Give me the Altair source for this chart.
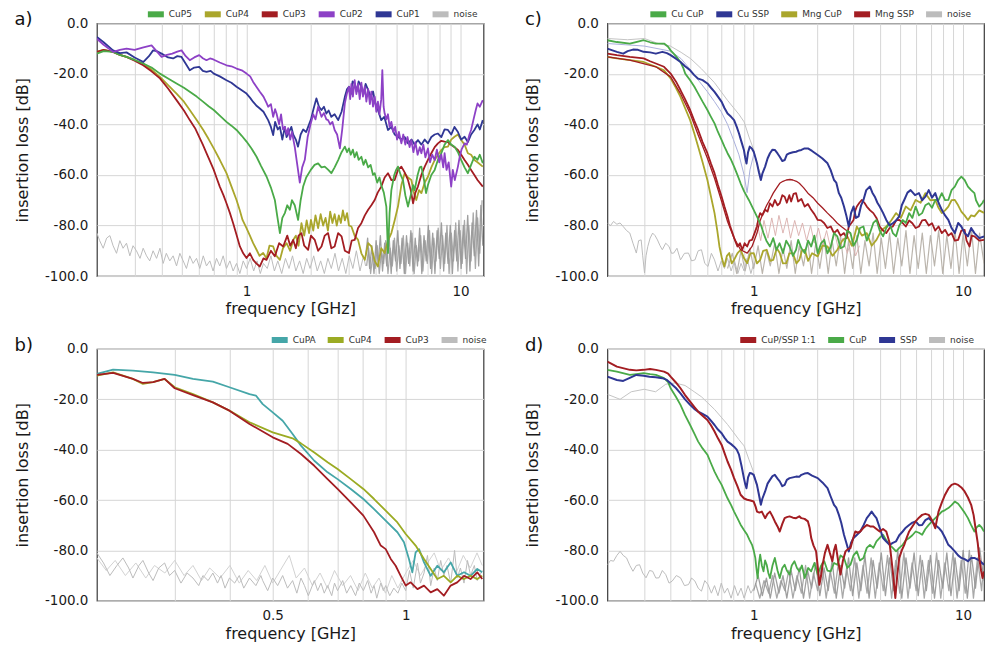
import altair as alt
import pandas as pd

FONT = "DejaVu Sans"

# ---------------- panel a ----------------
A_CUP5 = [(0.2,-12.0),(0.215,-11),(0.238,-11.3),(0.256,-12.5),(0.275,-13.3),(0.3,-14.5),(0.329,-15.9),(0.36,-17.5),(0.394,-19.9),(0.43,-21.8),(0.471,-23.8),(0.51,-25.5),(0.543,-27.1),(0.585,-29),(0.628,-31.1),(0.665,-32.8),(0.703,-34.3),(0.75,-36.5),(0.806,-39.0),(0.85,-40.5),(0.898,-42.2),(0.95,-44.5),(1.0,-46.8),(1.055,-49.5),(1.114,-52.8),(1.17,-56.5),(1.24,-60.6),(1.3,-65),(1.356,-69.9),(1.39,-76),(1.432,-83.0),(1.47,-77),(1.51,-75.1),(1.55,-72),(1.594,-73.8),(1.63,-70),(1.68,-72),(1.742,-77.8),(1.79,-70),(1.839,-64.6),(1.9,-61),(1.996,-58.0),(2.08,-56),(2.16,-55.4),(2.24,-57),(2.32,-56.7),(2.41,-58),(2.49,-59.3),(2.58,-57),(2.68,-54.1),(2.78,-51),(2.88,-48.8),(2.95,-51),(3.01,-49.5),(3.07,-52),(3.14,-50),(3.2,-53),(3.27,-51),(3.34,-54),(3.44,-52.8),(3.52,-56),(3.6,-54),(3.7,-57),(3.8,-56),(3.9,-60),(3.97,-59.3),(4.08,-63),(4.18,-61),(4.26,-64),(4.38,-67),(4.5,-72.5),(4.58,-90.9),(4.66,-75),(4.75,-66),(4.9,-60),(5.0,-58),(5.1,-56.7),(5.25,-60),(5.38,-62.0),(5.52,-68),(5.68,-72.5),(5.85,-68),(6.0,-64),(6.1,-66),(6.3,-60),(6.45,-57),(6.56,-56.7),(6.75,-62),(6.9,-67.2),(7.04,-64),(7.3,-60),(7.57,-58.0),(7.84,-54),(8.13,-51.4),(8.42,-48),(8.73,-46.2),(9.04,-48),(9.37,-48.8),(9.72,-51),(10.07,-54.1),(10.44,-57),(10.82,-59.3),(11.2,-56),(11.6,-52.8),(12.0,-54),(12.3,-52),(12.7,-55.4)]
A_CUP4 = [(0.2,-11.3),(0.215,-10.5),(0.238,-11.3),(0.256,-12.5),(0.275,-13.3),(0.3,-14.5),(0.329,-15.9),(0.36,-18.3),(0.394,-21.2),(0.43,-24.5),(0.471,-27.8),(0.51,-31),(0.543,-34.3),(0.585,-38.3),(0.628,-42.2),(0.665,-45.8),(0.703,-49.5),(0.75,-54),(0.806,-59.3),(0.85,-64.5),(0.898,-69.9),(0.93,-74),(0.958,-77.8),(1.0,-81),(1.037,-84.0),(1.074,-87),(1.114,-89.6),(1.15,-92),(1.196,-90.9),(1.24,-93),(1.28,-88),(1.332,-88.3),(1.38,-92),(1.432,-93.6),(1.48,-89),(1.538,-87),(1.6,-90),(1.652,-85.7),(1.7,-84),(1.75,-88),(1.806,-79.1),(1.86,-84),(1.91,-78),(1.96,-83),(2.0,-77.8),(2.05,-82),(2.1,-76),(2.16,-81),(2.22,-75.5),(2.28,-80),(2.34,-77),(2.4,-82),(2.46,-74.5),(2.52,-79),(2.58,-75.5),(2.64,-80),(2.7,-76),(2.76,-79),(2.82,-74),(2.88,-78),(2.95,-75.1),(3.01,-80),(3.09,-80.4),(3.2,-84),(3.32,-85.7),(3.44,-91),(3.57,-93.6),(3.7,-87),(3.83,-88.3),(3.97,-94),(4.11,-96.2),(4.26,-89),(4.42,-90.9),(4.58,-86),(4.75,-83),(4.92,-78),(5.1,-72.5),(5.29,-64),(5.48,-59.3),(5.68,-61),(5.89,-62),(6.05,-67),(6.21,-69.9),(6.4,-66),(6.56,-67.2),(6.8,-63),(7.04,-60.7),(7.3,-57),(7.57,-54.1),(7.84,-52),(8.13,-50.1),(8.42,-49),(8.73,-48.8),(9.04,-46),(9.37,-44.9),(9.72,-44),(10.07,-46.2),(10.44,-48),(10.82,-51.4),(11.2,-52),(11.6,-54.1),(12.0,-55),(12.7,-56.7)]
A_CUP3 = [(0.2,-11.3),(0.215,-10.5),(0.238,-11.3),(0.256,-12.5),(0.275,-13.3),(0.3,-14.8),(0.329,-16.6),(0.36,-19),(0.394,-21.8),(0.43,-25.8),(0.471,-30.4),(0.51,-34.5),(0.543,-38.3),(0.575,-41.5),(0.601,-44.9),(0.625,-48),(0.65,-51.4),(0.675,-54.5),(0.703,-58.0),(0.725,-61.2),(0.75,-64.6),(0.78,-68),(0.806,-71.2),(0.836,-75),(0.866,-79.1),(0.9,-84),(0.931,-88.3),(0.965,-91),(1.0,-92.9),(1.037,-91),(1.074,-93.6),(1.11,-95),(1.154,-96.2),(1.2,-93),(1.24,-93.6),(1.3,-90),(1.356,-92.2),(1.42,-87),(1.484,-88.3),(1.55,-84),(1.6,-88),(1.652,-85.7),(1.7,-89),(1.75,-84),(1.806,-83),(1.86,-88),(1.94,-89.6),(2.0,-84),(2.084,-85.7),(2.16,-90),(2.24,-88.3),(2.32,-84),(2.405,-83),(2.49,-89),(2.58,-88.3),(2.68,-83),(2.78,-84.3),(2.88,-90),(3.01,-90.9),(3.1,-86),(3.2,-85.7),(3.32,-81),(3.44,-79.1),(3.57,-76),(3.70,-73.8),(3.83,-72),(3.97,-69.9),(4.1,-67),(4.26,-64.6),(4.42,-61),(4.58,-59.3),(4.75,-62),(4.92,-62),(5.1,-58),(5.29,-56.7),(5.48,-59),(5.68,-62),(5.85,-66),(6.0,-71.2),(6.15,-67),(6.32,-64.6),(6.56,-60),(6.80,-56.7),(7.04,-54),(7.30,-51.4),(7.57,-49),(7.84,-47.5),(8.13,-46.5),(8.42,-46.8),(8.73,-47),(9.04,-48.1),(9.37,-49),(9.72,-50.1),(10.07,-52),(10.44,-54.1),(10.82,-56),(11.2,-58.0),(11.6,-60),(12.0,-62.0),(12.7,-64.6)]
A_CUP2 = [(0.2,-6.1),(0.215,-8.5),(0.238,-11.3),(0.256,-10.5),(0.275,-10.0),(0.3,-10.5),(0.33,-9.5),(0.36,-8.7),(0.38,-11),(0.401,-13.3),(0.425,-12.5),(0.45,-12.0),(0.475,-11.2),(0.497,-10.7),(0.52,-13),(0.543,-14.6),(0.57,-13.5),(0.601,-12.6),(0.625,-13.8),(0.65,-14.6),(0.675,-13.9),(0.70,-14.3),(0.75,-15.5),(0.806,-16.6),(0.85,-17),(0.898,-17.9),(0.95,-18.6),(1.0,-19.9),(1.04,-21),(1.074,-23.2),(1.11,-25),(1.154,-27.1),(1.2,-29),(1.24,-31.5),(1.262,-33.0),(1.3,-32),(1.332,-37),(1.36,-34),(1.381,-35.7),(1.42,-40),(1.45,-36),(1.48,-42),(1.51,-40.9),(1.54,-44),(1.565,-41.5),(1.6,-46),(1.63,-43),(1.681,-49),(1.72,-55),(1.774,-63),(1.82,-57),(1.872,-54),(1.93,-45),(1.996,-39.6),(2.05,-36),(2.1,-38),(2.16,-33),(2.2,-35),(2.24,-37),(2.3,-35.5),(2.36,-38),(2.405,-38.3),(2.46,-40),(2.52,-39),(2.58,-42.2),(2.65,-44),(2.73,-49.5),(2.8,-42),(2.88,-31.7),(2.94,-28),(3.01,-25.1),(3.05,-30),(3.09,-24),(3.14,-29),(3.2,-22.5),(3.26,-28),(3.32,-24),(3.38,-30),(3.44,-23.5),(3.5,-29),(3.57,-25),(3.63,-31),(3.7,-26),(3.77,-32),(3.83,-27),(3.9,-33),(3.97,-29),(4.04,-35),(4.11,-31),(4.18,-36),(4.26,-30),(4.31,-18.5),(4.37,-33),(4.42,-35.7),(4.5,-38),(4.58,-36),(4.66,-41),(4.75,-39),(4.85,-43),(4.95,-41),(5.05,-46),(5.15,-43),(5.29,-47.5),(5.4,-44),(5.52,-48),(5.65,-45),(5.78,-49),(5.89,-46.2),(6.02,-51),(6.15,-47),(6.3,-52),(6.45,-49),(6.56,-51.4),(6.7,-48),(6.85,-53),(7.04,-49.5),(7.2,-55),(7.37,-52),(7.57,-54.1),(7.75,-50),(7.95,-55),(8.13,-52),(8.3,-57),(8.42,-51.4),(8.6,-58),(8.8,-55),(9.04,-64.6),(9.2,-58),(9.4,-62),(9.72,-56.7),(9.9,-53),(10.1,-50),(10.44,-47.5),(10.7,-48),(11.0,-44),(11.2,-42.2),(11.5,-38),(11.8,-34),(12.0,-31.7),(12.3,-33),(12.7,-30.4)]
A_CUP1 = [(0.2,-5.4),(0.215,-7.5),(0.238,-10.7),(0.256,-11.8),(0.275,-11.5),(0.3,-13.5),(0.33,-15.3),(0.35,-13),(0.366,-10.7),(0.38,-11),(0.401,-12.0),(0.43,-13.5),(0.454,-13.9),(0.475,-13),(0.497,-13.3),(0.52,-16),(0.543,-18.6),(0.57,-17.5),(0.601,-17.2),(0.625,-18.8),(0.65,-19.2),(0.68,-18.8),(0.703,-19.9),(0.75,-21),(0.806,-22.5),(0.85,-23.5),(0.898,-25.1),(0.95,-26.5),(1.0,-27.8),(1.04,-29.5),(1.074,-31.1),(1.11,-32.5),(1.154,-33.7),(1.2,-35),(1.262,-38.3),(1.3,-41),(1.332,-44.2),(1.36,-39),(1.4,-42),(1.432,-41),(1.47,-46),(1.51,-41),(1.538,-45),(1.58,-43),(1.62,-41),(1.652,-44),(1.7,-46),(1.74,-48.8),(1.79,-44),(1.84,-42),(1.9,-43),(1.94,-41),(2.0,-38),(2.05,-34.3),(2.12,-29.7),(2.18,-33),(2.24,-34.3),(2.3,-33),(2.36,-35.7),(2.42,-34.5),(2.49,-37.0),(2.58,-36),(2.68,-38.3),(2.78,-35),(2.88,-29.1),(2.95,-26),(3.01,-25.1),(3.07,-28),(3.13,-23),(3.2,-23.8),(3.27,-27),(3.34,-23),(3.44,-25.1),(3.52,-28),(3.6,-24),(3.7,-26.4),(3.8,-29),(3.9,-27),(4.0,-31.7),(4.1,-34),(4.26,-38.3),(4.4,-37),(4.58,-42.2),(4.75,-41),(4.92,-44),(5.1,-44.9),(5.3,-46),(5.48,-45),(5.68,-47.5),(5.9,-46),(6.1,-48),(6.32,-46.2),(6.56,-48),(6.8,-46),(7.04,-47.5),(7.3,-45),(7.57,-44),(7.84,-43.6),(8.13,-45),(8.42,-42),(8.73,-42.2),(9.04,-44),(9.37,-41),(9.72,-43),(10.07,-46),(10.44,-44.9),(10.82,-47),(11.2,-44),(11.6,-42.2),(12.0,-40),(12.3,-42),(12.7,-38.3)]
A_NOISE = [(0.2,-83),(0.206,-86),(0.214,-89),(0.222,-85),(0.23,-84),(0.238,-88),(0.247,-91),(0.256,-86),(0.265,-89),(0.275,-87),(0.285,-92),(0.295,-88),(0.306,-90),(0.318,-93),(0.329,-89),(0.341,-92),(0.353,-94),(0.366,-90),(0.38,-93),(0.394,-89),(0.408,-95),(0.422,-91),(0.438,-94),(0.454,-92),(0.471,-96),(0.488,-91),(0.506,-94),(0.524,-97),(0.543,-92),(0.563,-95),(0.584,-93),(0.605,-97),(0.628,-92),(0.65,-96),(0.674,-94),(0.698,-98),(0.724,-93),(0.75,-96),(0.778,-92),(0.806,-97),(0.836,-94),(0.866,-98),(0.898,-95),(0.931,-99),(0.965,-94),(1.0,-97),(1.04,-93),(1.08,-98),(1.12,-94),(1.16,-99),(1.2,-95),(1.25,-97),(1.3,-92),(1.35,-98),(1.4,-94),(1.46,-99),(1.52,-93),(1.58,-97),(1.64,-92),(1.7,-98),(1.77,-94),(1.84,-99),(1.91,-93),(1.98,-97),(2.06,-92),(2.14,-98),(2.22,-94),(2.31,-99),(2.4,-93),(2.49,-97),(2.59,-91),(2.69,-98),(2.8,-93),(2.91,-99),(3.02,-92),(3.14,-97),(3.26,-90),(3.39,-98),(3.52,-92),(3.6,-96)]
A_BAND1 = [(3.6,-92),(3.68,-85),(3.76,-97),(3.85,-88),(3.94,-99),(4.03,-86),(4.12,-95),(4.22,-84),(4.32,-98),(4.42,-87),(4.52,-96),(4.63,-83),(4.74,-99),(4.85,-86),(4.97,-94),(5.09,-82),(5.21,-97),(5.33,-85),(5.46,-99),(5.59,-84),(5.72,-95),(5.86,-82),(6.0,-98),(6.14,-85),(6.29,-96),(6.44,-81),(6.59,-99),(6.75,-84),(6.91,-94),(7.07,-80),(7.24,-97),(7.41,-83),(7.59,-99),(7.77,-82),(7.95,-93),(8.14,-79),(8.34,-98),(8.53,-83),(8.74,-95),(8.95,-80),(9.16,-99),(9.38,-82),(9.6,-94),(9.83,-78),(10.06,-97),(10.3,-80),(10.55,-93),(10.8,-76),(11.06,-98),(11.32,-79),(11.59,-92),(11.87,-74),(12.15,-96),(12.44,-72),(12.7,-88)]
A_BAND2 = [(3.64,-96),(3.72,-89),(3.8,-99),(3.9,-91),(3.99,-97),(4.08,-88),(4.17,-99),(4.27,-90),(4.37,-95),(4.47,-86),(4.58,-99),(4.69,-89),(4.8,-96),(4.91,-85),(5.03,-98),(5.15,-88),(5.27,-95),(5.4,-84),(5.53,-99),(5.66,-87),(5.79,-96),(5.93,-83),(6.07,-99),(6.21,-88),(6.36,-94),(6.51,-84),(6.67,-98),(6.83,-86),(6.99,-95),(7.16,-82),(7.33,-99),(7.5,-85),(7.68,-94),(7.86,-81),(8.05,-97),(8.24,-84),(8.43,-95),(8.64,-80),(8.84,-99),(9.05,-83),(9.27,-94),(9.49,-79),(9.72,-98),(9.95,-82),(10.18,-95),(10.43,-78),(10.68,-99),(10.93,-80),(11.19,-94),(11.46,-75),(11.73,-97),(12.01,-77),(12.3,-91),(12.6,-70)]

# ---------------- panel b ----------------
B_CUPA = [(0.2,-9.9),(0.2176,-8.2),(0.2413,-8.6),(0.268,-9.3),(0.30,-10.3),(0.33,-11.9),(0.366,-13.0),(0.399,-15.2),(0.443,-17.9),(0.458,-18.5),(0.4746,-21.9),(0.50,-25.2),(0.5266,-28.5),(0.5546,-33.8),(0.5793,-38.4),(0.621,-44.4),(0.6655,-49.0),(0.701,-51.7),(0.751,-55.6),(0.802,-59.6),(0.848,-63.6),(0.909,-68.9),(0.9576,-72.8),(0.991,-76.8),(1.017,-83.4),(1.035,-88.7),(1.053,-80.8),(1.072,-79.5),(1.10,-84.8),(1.139,-90.1),(1.179,-86.1),(1.22,-88.7),(1.264,-84.8),(1.308,-90.1),(1.355,-88.7),(1.402,-90.1),(1.452,-87.4),(1.49,-88.7)]
B_CUP4 = [(0.2,-10.6),(0.2176,-9.3),(0.2413,-11.9),(0.2542,-13.9),(0.268,-13.2),(0.2846,-11.9),(0.30,-15.2),(0.33,-17.9),(0.366,-21.2),(0.399,-24.5),(0.443,-29.1),(0.50,-33.1),(0.5546,-35.5),(0.5793,-37.5),(0.621,-41.1),(0.6655,-45.0),(0.701,-47.7),(0.751,-51.7),(0.802,-55.6),(0.848,-59.6),(0.909,-64.9),(0.9576,-68.9),(1.0,-73.5),(1.053,-78.1),(1.10,-83.4),(1.139,-87.4),(1.179,-91.4),(1.22,-90.1),(1.264,-92.7),(1.308,-90.1),(1.355,-91.4),(1.402,-90.1),(1.452,-91.4),(1.49,-90.1)]
B_CUP3 = [(0.2,-10.3),(0.2176,-9.5),(0.2413,-11.9),(0.2542,-13.5),(0.268,-13.2),(0.2846,-11.9),(0.30,-15.6),(0.33,-18.3),(0.366,-21.2),(0.399,-24.5),(0.443,-29.8),(0.50,-35.1),(0.5405,-37.7),(0.5793,-41.7),(0.621,-46.4),(0.6655,-51.7),(0.701,-55.6),(0.751,-60.9),(0.802,-66.2),(0.848,-72.8),(0.878,-78.1),(0.901,-79.5),(0.925,-83.4),(0.949,-86.1),(0.974,-90.1),(1.0,-94.0),(1.026,-92.7),(1.063,-95.4),(1.10,-94.0),(1.139,-96.7),(1.179,-95.4),(1.22,-98.0),(1.264,-94.0),(1.308,-92.7),(1.355,-90.1),(1.402,-91.4),(1.452,-88.7),(1.49,-91.4)]
B_NOISE = [(0.2,-81),(0.207,-85),(0.214,-90),(0.222,-86),(0.229,-83),(0.236,-87),(0.2413,-91),(0.249,-86),(0.2542,-84),(0.262,-89),(0.268,-92),(0.276,-87),(0.2846,-85),(0.292,-90),(0.30,-88),(0.31,-93),(0.32,-89),(0.33,-91),(0.34,-94),(0.3475,-90),(0.357,-92),(0.366,-89),(0.375,-93),(0.382,-90),(0.39,-95),(0.399,-91),(0.41,-93),(0.42,-90),(0.43,-95),(0.443,-91),(0.458,-94),(0.47,-90),(0.4746,-92),(0.487,-96),(0.50,-91),(0.513,-94),(0.5266,-90),(0.54,-95),(0.5546,-92),(0.567,-97),(0.5793,-91),(0.59,-94),(0.602,-98),(0.621,-92),(0.632,-96),(0.643,-93),(0.654,-97),(0.6655,-94),(0.68,-98),(0.69,-93),(0.701,-96),(0.72,-92),(0.735,-97),(0.751,-94),(0.77,-98),(0.785,-93),(0.802,-96),(0.82,-92),(0.835,-97),(0.848,-94),(0.86,-99),(0.878,-93),(0.89,-96),(0.901,-94),(0.92,-98),(0.94,-95),(0.96,-97),(0.98,-93),(1.0,-96),(1.02,-88),(1.04,-95),(1.063,-85),(1.08,-93),(1.10,-89),(1.12,-82),(1.139,-94),(1.16,-87),(1.179,-92),(1.2,-84),(1.22,-90),(1.24,-86),(1.264,-93),(1.29,-80),(1.308,-91),(1.33,-87),(1.355,-93),(1.38,-84),(1.402,-90),(1.43,-86),(1.452,-92),(1.49,-88)]
B_NOISE2 = [(0.2,-83),(0.21,-88),(0.22,-84),(0.232,-90),(0.245,-85),(0.258,-91),(0.27,-86),(0.285,-89),(0.3,-84),(0.315,-90),(0.33,-86),(0.345,-92),(0.36,-87),(0.38,-91),(0.4,-86),(0.42,-93),(0.44,-88),(0.46,-92),(0.48,-86),(0.5,-93),(0.52,-88),(0.545,-82),(0.565,-91),(0.59,-87),(0.615,-94),(0.64,-89),(0.665,-95),(0.69,-88),(0.72,-94),(0.75,-90),(0.78,-96),(0.81,-89),(0.84,-95),(0.87,-91),(0.9,-97),(0.93,-90),(0.96,-95),(1.0,-89),(1.04,-84),(1.08,-90),(1.12,-85),(1.16,-81),(1.2,-88),(1.25,-83),(1.3,-89),(1.35,-82),(1.4,-87),(1.45,-81),(1.49,-86)]

# ---------------- panel c ----------------
C_CU_CUP = [(0.2,-6.7),(0.222,-7.4),(0.256,-8.0),(0.28,-7.2),(0.298,-6.7),(0.32,-7.5),(0.341,-8.0),(0.373,-8.0),(0.39,-9.3),(0.401,-10.7),(0.425,-13),(0.447,-15.3),(0.46,-17.5),(0.471,-19.9),(0.497,-22.5),(0.52,-25),(0.543,-27.8),(0.57,-31),(0.601,-34.3),(0.625,-37),(0.65,-39.6),(0.675,-43),(0.703,-46.2),(0.725,-48.8),(0.75,-51.4),(0.78,-54),(0.806,-56.7),(0.836,-60),(0.866,-63.3),(0.9,-66.5),(0.948,-69.9),(1.0,-73.8),(1.055,-77.8),(1.085,-80),(1.114,-83.0),(1.15,-86),(1.196,-88.3),(1.24,-85),(1.285,-89.6),(1.33,-87),(1.381,-90.9),(1.43,-86),(1.484,-88.3),(1.54,-92),(1.594,-89.6),(1.631,-85.7),(1.69,-89),(1.753,-90.9),(1.82,-86),(1.883,-88.3),(1.95,-84),(2.023,-90.9),(2.1,-87),(2.174,-85.7),(2.25,-91),(2.335,-88.3),(2.42,-83),(2.51,-84.3),(2.6,-89),(2.70,-88.3),(2.8,-82),(2.90,-83.0),(3.0,-88),(3.11,-85.7),(3.22,-81),(3.345,-80.4),(3.47,-86),(3.594,-83.0),(3.73,-79),(3.86,-77.8),(4.0,-82),(4.15,-84.3),(4.3,-81),(4.46,-79.1),(4.62,-83),(4.79,-84.3),(4.96,-80),(5.15,-77.8),(5.33,-79),(5.53,-75.1),(5.73,-77),(5.94,-72.5),(6.16,-76),(6.38,-75.1),(6.61,-72),(6.86,-71.2),(7.11,-73),(7.37,-69.9),(7.64,-70),(7.92,-67.2),(8.21,-70),(8.51,-69.9),(8.82,-66),(9.14,-64.6),(9.48,-62),(9.82,-60.7),(10.18,-62),(10.56,-64.6),(10.94,-66),(11.34,-67.2),(11.54,-70),(11.96,-72.5),(12.4,-71),(12.6,-69.9)]
C_CU_SSP = [(0.2,-10.0),(0.222,-11.3),(0.238,-12.0),(0.25,-11),(0.265,-10.4),(0.28,-10.5),(0.298,-11.3),(0.32,-11.5),(0.341,-12.0),(0.366,-11.3),(0.385,-11.8),(0.401,-12.6),(0.425,-14),(0.447,-15.3),(0.47,-17),(0.497,-18.6),(0.52,-20.5),(0.543,-21.9),(0.57,-22.5),(0.601,-23.8),(0.625,-25.5),(0.65,-27.1),(0.675,-29),(0.703,-31.1),(0.725,-33.5),(0.75,-35.7),(0.78,-37),(0.806,-38.3),(0.83,-41),(0.851,-43.6),(0.875,-47),(0.898,-50.1),(0.91,-53),(0.924,-55.5),(0.94,-51),(0.958,-48.8),(0.98,-49.5),(1.0,-50.8),(1.018,-53),(1.037,-55.4),(1.06,-59),(1.082,-62.0),(1.1,-59.5),(1.134,-56.7),(1.165,-53.5),(1.196,-51.4),(1.23,-50),(1.262,-50.1),(1.3,-51.5),(1.332,-52.8),(1.37,-54.5),(1.406,-54.1),(1.44,-52),(1.484,-51.4),(1.54,-51),(1.594,-50.8),(1.65,-50.3),(1.69,-50.1),(1.75,-49.5),(1.816,-49.5),(1.9,-50.5),(2.023,-52.1),(2.13,-53.5),(2.253,-55.4),(2.33,-58),(2.42,-62.0),(2.48,-63),(2.553,-67.2),(2.62,-69),(2.70,-72.5),(2.77,-76),(2.846,-80.4),(2.92,-75),(3.0,-72.5),(3.08,-77),(3.17,-76.4),(3.26,-72),(3.345,-69.9),(3.45,-66),(3.594,-64.6),(3.69,-67),(3.79,-68.6),(3.9,-71),(4.0,-72.5),(4.15,-75),(4.30,-77.8),(4.46,-80),(4.62,-79.1),(4.79,-78),(4.96,-76.4),(5.1,-72),(5.24,-69.9),(5.43,-67),(5.62,-66.0),(5.9,-68),(6.16,-67.2),(6.38,-70),(6.61,-68.6),(6.86,-66),(7.11,-69),(7.37,-67.2),(7.64,-71),(7.92,-73.8),(8.21,-76),(8.51,-77.8),(8.82,-81),(9.14,-83.0),(9.48,-79),(9.82,-80.4),(10.18,-83),(10.56,-84.3),(10.94,-81),(11.34,-83.0),(11.96,-85),(12.6,-84.3)]
C_MNG_CUP = [(0.2,-13.3),(0.222,-13.9),(0.256,-14.6),(0.298,-15.3),(0.341,-17.2),(0.373,-18.6),(0.401,-21.8),(0.425,-25.5),(0.447,-29.1),(0.47,-33.5),(0.497,-38.3),(0.52,-43.5),(0.543,-48.8),(0.57,-55),(0.601,-62.0),(0.625,-68.5),(0.65,-75.1),(0.67,-82),(0.686,-88.3),(0.705,-93),(0.724,-96.2),(0.745,-92),(0.764,-90.9),(0.785,-95),(0.806,-93.6),(0.836,-91),(0.866,-89.6),(0.9,-93),(0.931,-94.9),(0.965,-91),(1.0,-90.9),(1.037,-95),(1.074,-93.6),(1.11,-90),(1.154,-89.6),(1.2,-94),(1.24,-93.6),(1.29,-89),(1.332,-90.9),(1.38,-95),(1.432,-94.9),(1.48,-91),(1.538,-90.9),(1.6,-95),(1.652,-93.6),(1.7,-90),(1.753,-89.6),(1.82,-94),(1.9,-91),(2.023,-92.2),(2.13,-88),(2.253,-88.3),(2.38,-92),(2.51,-89.6),(2.65,-86),(2.80,-84.3),(2.95,-88),(3.11,-80.4),(3.29,-84),(3.47,-83.0),(3.66,-88),(3.86,-85.7),(4.07,-82),(4.30,-80.4),(4.54,-78),(4.79,-75.1),(5.05,-77),(5.33,-72.5),(5.62,-74),(5.94,-69.9),(6.27,-71),(6.61,-67.2),(6.98,-70),(7.37,-69.9),(7.64,-73),(7.92,-75.1),(8.21,-74),(8.51,-72.5),(8.82,-70),(9.14,-69.9),(9.48,-72),(9.82,-74.5),(10.18,-76),(10.56,-77.8),(10.94,-76),(11.34,-76.4),(11.96,-74),(12.6,-75)]
C_MNG_SSP = [(0.2,-12.0),(0.222,-12.6),(0.256,-13.3),(0.298,-13.9),(0.32,-15),(0.341,-15.9),(0.373,-17.2),(0.401,-19.9),(0.425,-23),(0.447,-26.4),(0.47,-30),(0.497,-34.3),(0.52,-38.5),(0.543,-42.2),(0.57,-47),(0.601,-51.4),(0.625,-55.5),(0.65,-59.3),(0.675,-64),(0.703,-68.6),(0.725,-72.5),(0.75,-76.4),(0.77,-80),(0.792,-83.0),(0.815,-86),(0.836,-88.3),(0.86,-87),(0.882,-89.6),(0.905,-87),(0.931,-88.3),(0.955,-86),(0.982,-85.7),(1.01,-83),(1.037,-80.4),(1.055,-77),(1.074,-75.1),(1.1,-76),(1.134,-73.8),(1.165,-74.5),(1.196,-71.2),(1.23,-72.5),(1.262,-69.9),(1.3,-72),(1.332,-71.2),(1.37,-68),(1.406,-68.6),(1.44,-71),(1.48,-68),(1.51,-70.5),(1.55,-67.5),(1.594,-67.2),(1.63,-70.5),(1.69,-69.5),(1.753,-72.5),(1.816,-71.5),(1.883,-73.8),(1.95,-75.5),(2.023,-77.8),(2.1,-78),(2.174,-79.1),(2.25,-81),(2.335,-80.4),(2.42,-83),(2.51,-81.7),(2.6,-84),(2.70,-83.0),(2.78,-85),(2.846,-80.4),(2.93,-79),(3.0,-77.8),(3.06,-74),(3.11,-72.5),(3.2,-71),(3.29,-69.9),(3.38,-71),(3.47,-72.5),(3.6,-74),(3.73,-75.1),(3.86,-77),(4.0,-80.4),(4.15,-82),(4.30,-83.0),(4.46,-81),(4.62,-80.4),(4.79,-78),(4.96,-77.8),(5.15,-79),(5.33,-80.4),(5.53,-78),(5.73,-79.1),(5.94,-81),(6.16,-80.4),(6.38,-78),(6.61,-77.8),(6.86,-80),(7.11,-79.1),(7.37,-82),(7.64,-80.4),(7.92,-83),(8.21,-81.7),(8.51,-84),(8.82,-83.0),(9.14,-86),(9.48,-85.7),(9.82,-82),(10.18,-81.7),(10.4,-86),(10.75,-88.3),(11.0,-84),(11.34,-84.3),(11.96,-86),(12.6,-85.7)]
C_MNG_SSP_B = [(0.2,-13.3),(0.256,-14.6),(0.341,-17.2),(0.401,-21.2),(0.447,-27.8),(0.497,-35.7),(0.543,-44.2),(0.601,-53.4),(0.65,-61.3),(0.703,-70.5),(0.75,-78.4),(0.806,-85.0),(0.866,-89.6),(0.931,-90.9),(0.982,-88.3),(1.037,-83),(1.074,-78),(1.11,-75),(1.154,-72),(1.2,-69.5),(1.24,-67.2),(1.29,-65),(1.332,-63.3),(1.38,-62.5),(1.432,-62.0),(1.49,-61.8),(1.538,-62.0),(1.6,-62.5),(1.652,-63.3),(1.73,-65),(1.816,-67.2),(1.92,-69),(2.023,-71.2),(2.13,-73),(2.253,-75.1),(2.38,-77),(2.51,-79.1),(2.63,-80.5),(2.746,-81.7),(2.90,-83.0)]
C_NOISE = [(0.2,-79.1),(0.207,-80),(0.214,-78.4),(0.222,-79.5),(0.23,-79),(0.238,-80.4),(0.247,-82),(0.256,-83.0),(0.265,-87),(0.275,-90.9),(0.282,-86),(0.29,-85.7),(0.295,-92),(0.301,-98.8),(0.306,-92),(0.312,-88.3),(0.32,-85),(0.329,-83.0),(0.338,-84),(0.347,-85.7),(0.357,-88),(0.366,-89.6),(0.38,-87),(0.394,-88.3),(0.405,-91),(0.415,-90.9),(0.43,-89),(0.447,-93.6),(0.467,-91),(0.488,-90.9),(0.505,-94),(0.524,-93.6),(0.543,-90),(0.563,-89.6),(0.584,-95),(0.605,-96.2),(0.628,-91),(0.65,-93.6),(0.675,-98),(0.7,-94),(0.725,-97),(0.75,-93),(0.78,-98),(0.81,-94),(0.84,-99),(0.87,-95),(0.9,-98),(0.93,-93),(0.97,-99),(1.0,-95)]
C_BAND1 = [(0.75,-97),(0.79,-91),(0.83,-99),(0.87,-90),(0.91,-98),(0.96,-89),(1.0,-97),(1.05,-88),(1.1,-99),(1.15,-90),(1.2,-96),(1.26,-87),(1.32,-99),(1.38,-89),(1.44,-97),(1.51,-86),(1.58,-99),(1.65,-88),(1.73,-96),(1.81,-86),(1.89,-99),(1.98,-87),(2.07,-97),(2.17,-85),(2.27,-99),(2.37,-86),(2.48,-96),(2.6,-84),(2.72,-99),(2.84,-86),(2.97,-97),(3.11,-84),(3.25,-99),(3.4,-86),(3.56,-96),(3.72,-83),(3.89,-99),(4.07,-85),(4.26,-97),(4.46,-83),(4.66,-99),(4.88,-85),(5.1,-96),(5.34,-82),(5.58,-99),(5.84,-84),(6.11,-97),(6.39,-83),(6.68,-99),(6.99,-84),(7.31,-96),(7.65,-82),(8.0,-99),(8.37,-84),(8.76,-97),(9.16,-82),(9.58,-99),(10.02,-83),(10.49,-96),(10.97,-81),(11.47,-99),(12.0,-83),(12.6,-95)]
C_PINK = [(1.0,-84),(1.04,-79),(1.08,-86),(1.12,-78),(1.17,-85),(1.22,-77),(1.27,-84),(1.32,-76),(1.38,-83),(1.44,-77),(1.5,-85),(1.57,-78),(1.64,-84),(1.71,-79),(1.79,-86),(1.87,-80),(1.95,-87),(2.04,-81),(2.13,-88),(2.23,-82),(2.33,-89),(2.44,-83),(2.55,-90),(2.67,-85),(2.8,-91),(2.93,-86),(3.07,-92),(3.2,-88)]
C_GHOST_GRAY = [(0.2,-6),(0.25,-6.5),(0.3,-6),(0.35,-8),(0.4,-9),(0.45,-11.5),(0.5,-14),(0.563,-18),(0.65,-23.5),(0.75,-30.5),(0.85,-36),(0.9,-39),(0.95,-45),(1.0,-50),(1.04,-56),(1.08,-60)]
C_GHOST_BLUE = [(0.2,-8),(0.3,-9),(0.4,-11),(0.45,-14),(0.5,-18.5),(0.55,-23),(0.6,-27),(0.65,-31),(0.7,-35),(0.75,-40),(0.8,-46),(0.85,-52),(0.9,-60),(0.93,-67),(0.96,-58),(1.0,-52)]

# ---------------- panel d ----------------
D_CUP_SSP = [(0.2,-5.0),(0.222,-7.0),(0.256,-8.3),(0.275,-8.5),(0.298,-8.3),(0.32,-8.0),(0.341,-8.3),(0.373,-9.0),(0.39,-9.8),(0.401,-11.0),(0.425,-13.3),(0.447,-15.6),(0.47,-18.3),(0.497,-20.9),(0.52,-23),(0.543,-24.9),(0.57,-26.5),(0.601,-28.2),(0.625,-30.3),(0.65,-32.8),(0.675,-35.5),(0.703,-38.1),(0.725,-41.3),(0.75,-44.7),(0.78,-48),(0.806,-51.3),(0.836,-54.5),(0.866,-57.9),(0.9,-59.4),(0.931,-59.9),(0.965,-60.2),(1.0,-60.6),(1.02,-62.5),(1.037,-64.6),(1.065,-65),(1.094,-64.6),(1.115,-66),(1.134,-67.2),(1.165,-65.5),(1.196,-64.6),(1.23,-66.5),(1.262,-68.5),(1.3,-70.5),(1.332,-72.5),(1.37,-69.5),(1.406,-67.2),(1.44,-66.8),(1.484,-66.5),(1.54,-67),(1.594,-67.2),(1.652,-66.5),(1.69,-67.2),(1.75,-67.5),(1.816,-68.5),(1.85,-71),(1.883,-75.1),(1.93,-78),(1.987,-80.4),(2.02,-86),(2.06,-93.7),(2.1,-90),(2.134,-85.7),(2.19,-81),(2.253,-77.8),(2.31,-81),(2.377,-84.3),(2.42,-80),(2.466,-77.8),(2.53,-84),(2.60,-89.6),(2.67,-84),(2.746,-80.4),(2.82,-79.5),(2.90,-79.1),(2.98,-75.5),(3.058,-72.5),(3.14,-73),(3.23,-72.5),(3.35,-71),(3.47,-69.9),(3.6,-70.5),(3.73,-70.5),(3.86,-71.5),(4.0,-72.5),(4.15,-71.5),(4.30,-72.5),(4.46,-77),(4.62,-88.4),(4.75,-98.9),(4.85,-90),(4.96,-83),(5.1,-80),(5.24,-77.8),(5.38,-75),(5.53,-72.5),(5.73,-70.5),(5.94,-68.5),(6.16,-67),(6.38,-65.9),(6.61,-65.5),(6.86,-65.9),(7.11,-68),(7.37,-71.2),(7.5,-68),(7.64,-64.6),(7.92,-61),(8.21,-57.9),(8.51,-55.5),(8.82,-54.0),(9.14,-53.5),(9.48,-54.0),(9.82,-55),(10.18,-56.6),(10.56,-59),(10.94,-61.9),(11.24,-66),(11.54,-72.5),(11.76,-77),(11.96,-83),(12.2,-88),(12.4,-91),(12.6,-88.4)]
D_CUP = [(0.2,-8.3),(0.222,-9.0),(0.256,-10.3),(0.275,-10.0),(0.298,-9.6),(0.32,-10),(0.341,-10.3),(0.373,-11.6),(0.39,-13.2),(0.401,-15.6),(0.425,-19),(0.447,-22.2),(0.47,-26.3),(0.497,-30.2),(0.52,-33.5),(0.543,-36.8),(0.57,-39.5),(0.601,-42.0),(0.625,-45.4),(0.65,-48.7),(0.675,-51.4),(0.703,-54.0),(0.725,-56.6),(0.75,-59.3),(0.78,-62),(0.806,-64.6),(0.836,-67.2),(0.866,-69.8),(0.9,-72),(0.931,-73.8),(0.955,-75.8),(0.982,-77.8),(1.0,-80),(1.018,-83.0),(1.03,-87),(1.044,-91.0),(1.06,-85),(1.074,-81.7),(1.094,-86),(1.114,-88.3),(1.134,-84),(1.154,-85.7),(1.175,-89),(1.196,-91.0),(1.23,-86),(1.262,-83.0),(1.3,-88),(1.332,-91.0),(1.37,-87),(1.406,-85.7),(1.44,-88),(1.484,-89.6),(1.52,-86),(1.566,-84.3),(1.61,-87),(1.652,-88.3),(1.7,-86),(1.753,-91.0),(1.82,-87),(1.883,-88.3),(1.95,-85),(2.023,-89.6),(2.1,-86),(2.174,-84.3),(2.25,-88),(2.335,-88.3),(2.42,-85),(2.51,-85.7),(2.6,-82),(2.70,-83.0),(2.8,-87),(2.90,-85.7),(3.0,-82),(3.11,-80.4),(3.22,-84),(3.345,-83.0),(3.47,-79),(3.594,-77.8),(3.73,-79),(3.86,-76.4),(4.0,-75),(4.15,-73.8),(4.3,-76),(4.46,-77.8),(4.62,-79),(4.79,-80.4),(4.96,-79),(5.15,-77.8),(5.33,-76),(5.53,-75.1),(5.73,-74),(5.94,-72.5),(6.16,-73),(6.38,-73.8),(6.61,-71.5),(6.86,-69.9),(7.11,-68.5),(7.37,-67.2),(7.64,-66),(7.92,-64.6),(8.21,-64),(8.51,-63.2),(8.82,-62),(9.14,-60.6),(9.48,-61.5),(9.82,-63.2),(10.18,-65),(10.56,-67.2),(10.94,-70),(11.34,-72.5),(11.6,-71),(11.96,-69.9),(12.3,-71),(12.6,-72.5)]
D_SSP = [(0.2,-11.0),(0.222,-12.3),(0.238,-12.7),(0.256,-11.5),(0.275,-10.3),(0.298,-10.6),(0.318,-11),(0.341,-11.2),(0.366,-11.6),(0.385,-12.3),(0.401,-13.6),(0.425,-15.5),(0.447,-17.6),(0.47,-20),(0.497,-22.2),(0.52,-23.8),(0.543,-24.9),(0.57,-25.8),(0.601,-26.9),(0.625,-28.5),(0.65,-30.2),(0.675,-32),(0.703,-33.5),(0.725,-35.2),(0.75,-36.8),(0.78,-37.8),(0.806,-38.8),(0.83,-40),(0.851,-42.0),(0.875,-46.5),(0.898,-51.3),(0.91,-53.5),(0.924,-55.3),(0.94,-51),(0.958,-49.3),(0.98,-49.5),(1.0,-50.0),(1.018,-52),(1.037,-54.0),(1.06,-58),(1.082,-61.9),(1.1,-59.5),(1.134,-56.6),(1.165,-53.5),(1.196,-52.0),(1.23,-50.5),(1.262,-50.0),(1.3,-51.5),(1.332,-52.6),(1.37,-54.5),(1.406,-54.0),(1.44,-52),(1.484,-51.3),(1.54,-51),(1.594,-50.7),(1.65,-50.8),(1.69,-50.0),(1.75,-49.5),(1.816,-49.3),(1.9,-50.3),(2.023,-51.3),(2.13,-53),(2.253,-55.3),(2.33,-58.5),(2.42,-61.9),(2.48,-63),(2.553,-65.9),(2.62,-69),(2.70,-73.8),(2.77,-77),(2.846,-80.4),(2.92,-77),(3.0,-75.1),(3.1,-74),(3.23,-72.5),(3.35,-70),(3.47,-67.2),(3.56,-66),(3.66,-64.6),(3.76,-66),(3.86,-67.2),(4.0,-71),(4.15,-75.1),(4.3,-76.5),(4.46,-77.8),(4.62,-77),(4.79,-76.4),(4.96,-74),(5.15,-72.5),(5.33,-71),(5.53,-69.9),(5.73,-69),(5.94,-68.5),(6.16,-70),(6.38,-69.9),(6.61,-68),(6.86,-67.2),(7.11,-68.5),(7.37,-69.9),(7.64,-71),(7.92,-72.5),(8.21,-75),(8.51,-77.8),(8.82,-79),(9.14,-80.4),(9.48,-82),(9.82,-83.0),(10.18,-83.5),(10.56,-84.3),(10.94,-83),(11.34,-83.0),(11.96,-84),(12.6,-85.7)]
D_NOISE = [(0.2,-85.7),(0.207,-84),(0.214,-84.3),(0.222,-82),(0.23,-80.4),(0.238,-82),(0.247,-83),(0.256,-86),(0.265,-88.3),(0.275,-86),(0.285,-85.7),(0.295,-89),(0.306,-90.9),(0.318,-88),(0.329,-88.3),(0.341,-91),(0.353,-90.9),(0.366,-88),(0.38,-89.6),(0.394,-93),(0.408,-92.2),(0.427,-90),(0.447,-90.9),(0.467,-94),(0.488,-93.6),(0.505,-91),(0.524,-92.2),(0.543,-95),(0.563,-96.2),(0.584,-92),(0.605,-93.6),(0.628,-97),(0.65,-94),(0.675,-98),(0.7,-93),(0.725,-97),(0.75,-95),(0.78,-99),(0.81,-94),(0.84,-98),(0.87,-95),(0.9,-99),(0.94,-94),(0.97,-97),(1.0,-95)]
D_BAND1 = [(1.0,-96),(1.05,-90),(1.1,-98),(1.15,-91),(1.2,-99),(1.26,-89),(1.32,-97),(1.38,-90),(1.44,-99),(1.51,-88),(1.58,-96),(1.65,-87),(1.73,-99),(1.81,-88),(1.89,-95),(1.98,-85),(2.07,-98),(2.17,-87),(2.27,-96),(2.37,-84),(2.48,-99),(2.6,-86),(2.72,-95),(2.84,-83),(2.97,-98),(3.11,-85),(3.25,-96),(3.4,-82),(3.56,-99),(3.72,-84),(3.89,-95),(4.07,-81),(4.26,-98),(4.46,-83),(4.66,-96),(4.88,-80),(5.1,-99),(5.34,-83),(5.58,-95),(5.84,-81),(6.11,-98),(6.39,-84),(6.68,-96),(6.99,-82),(7.31,-99),(7.65,-84),(8.0,-95),(8.37,-81),(8.76,-98),(9.16,-83),(9.58,-96),(10.02,-80),(10.49,-99),(10.97,-82),(11.47,-95),(12.0,-79),(12.6,-92)]
D_BAND2 = [(1.02,-93),(1.07,-99),(1.12,-92),(1.18,-97),(1.23,-90),(1.29,-99),(1.35,-92),(1.41,-96),(1.47,-88),(1.54,-99),(1.61,-90),(1.69,-97),(1.77,-86),(1.85,-99),(1.93,-89),(2.02,-96),(2.12,-85),(2.22,-99),(2.32,-88),(2.43,-97),(2.54,-85),(2.66,-99),(2.78,-87),(2.9,-96),(3.04,-83),(3.18,-99),(3.33,-86),(3.48,-97),(3.64,-83),(3.81,-99),(3.98,-85),(4.16,-96),(4.36,-82),(4.56,-99),(4.77,-84),(4.99,-97),(5.22,-81),(5.46,-99),(5.71,-85),(5.97,-96),(6.25,-82),(6.53,-99),(6.84,-84),(7.15,-97),(7.48,-81),(7.83,-99),(8.19,-85),(8.56,-96),(8.96,-81),(9.37,-99),(9.8,-84),(10.25,-97),(10.72,-80),(11.22,-99),(11.73,-83),(12.27,-96),(12.6,-84)]
D_GHOST_GRAY = [(0.2,-18),(0.23,-20),(0.26,-17),(0.3,-16),(0.34,-17),(0.38,-14),(0.42,-13.5),(0.47,-14.5),(0.52,-17),(0.563,-19),(0.65,-24),(0.75,-30),(0.85,-36),(0.9,-38.5),(0.95,-44),(1.0,-49),(1.04,-55),(1.08,-60)]

# ---------------- styling ----------------
GREEN, OLIVE, RED, PURPLE, BLUE, GRAY = "#4aaa48", "#aaa62c", "#a31d22", "#8d41c6", "#2f3794", "#bcbcbc"
TEAL, YGREEN = "#45a6a8", "#9bab23"
BAND_GRAY = "#8e8e8e"
Y_TICKS = [0, -20, -40, -60, -80, -100]
Y_EXPR = "datum.value == 0 ? '0.0' : '-' + format(-datum.value, '.1f')"
X_GRID_WIDE = [0.3, 0.4, 0.5, 0.6, 0.7, 0.8, 0.9, 1, 2, 3, 4, 5, 6, 7, 8, 9, 10]
X_GRID_B = [0.3, 0.4, 0.5, 0.6, 0.7, 0.8, 0.9, 1]
X_EXPR_WIDE = "datum.value == 1 ? '1' : (datum.value == 10 ? '10' : '')"
X_EXPR_B = "datum.value == 0.5 ? '0.5' : (datum.value == 1 ? '1' : '')"


def line_rows(items):
    rows = []
    for series, run, width, pts in items:
        for f, v in pts:
            rows.append({"f": f, "v": v, "series": series, "run": run, "w": width})
    return pd.DataFrame(rows)


def panel(main, extras, series, colors, xdomain, xgrid, xexpr, tag, lx, ly, w, h):
    xenc = alt.X("f:Q", scale=alt.Scale(type="log", domain=xdomain, nice=False),
                 axis=alt.Axis(values=xgrid, labelExpr=xexpr, title="frequency [GHz]", labelFlush=False))
    yenc = alt.Y("v:Q", scale=alt.Scale(domain=[-100, 0], nice=False, zero=False),
                 axis=alt.Axis(values=Y_TICKS, labelExpr=Y_EXPR, title="insertion loss [dB]"))
    layers = []
    for color, width, opacity, pts in extras:
        df = pd.DataFrame(pts, columns=["f", "v"])
        layers.append(alt.Chart(df).mark_line(clip=True, color=color, strokeWidth=width,
                                              opacity=opacity, strokeJoin="round").encode(x=xenc, y=yenc))
    lines = alt.Chart(line_rows(main)).mark_line(clip=True, strokeJoin="round").encode(
        x=xenc, y=yenc,
        color=alt.Color("series:N", scale=alt.Scale(domain=series, range=colors),
                        legend=alt.Legend(title=None, orient="none", legendX=lx, legendY=ly,
                                          direction="horizontal", columns=len(series),
                                          symbolType="stroke", symbolSize=256, symbolStrokeWidth=6,
                                          symbolOpacity=1, labelFontSize=9, labelFont=FONT,
                                          labelColor="#333333", columnPadding=0, labelOffset=2,
                                          padding=0)),
        size=alt.Size("w:Q", scale=None, legend=None),
        detail="run:N")
    layers.append(lines)
    return alt.layer(*layers).properties(
        width=w, height=h,
        title=alt.TitleParams(tag, anchor="start", frame="bounds", fontSize=18, fontWeight="normal",
                              font=FONT, color="#111111", offset=-26))


pa = panel(
    [("noise", "n", 1.0, A_NOISE), ("CuP4", "4", 1.8, A_CUP4), ("CuP3", "3", 1.8, A_CUP3),
     ("CuP5", "5", 1.8, A_CUP5), ("CuP1", "1", 1.8, A_CUP1), ("CuP2", "2", 1.8, A_CUP2)],
    [(BAND_GRAY, 1.3, 0.85, A_BAND1), ("#9a9a9a", 1.3, 0.85, A_BAND2)],
    ["CuP5", "CuP4", "CuP3", "CuP2", "CuP1", "noise"], [GREEN, OLIVE, RED, PURPLE, BLUE, GRAY],
    [0.2, 12.8], X_GRID_WIDE, X_EXPR_WIDE, "a)", 48, -20, 387, 253)

pb = panel(
    [("noise", "n", 1.0, B_NOISE), ("CuPA", "A", 1.8, B_CUPA),
     ("CuP4", "4", 1.8, B_CUP4), ("CuP3", "3", 1.8, B_CUP3)],
    [("#d2d2d2", 1.0, 1.0, B_NOISE2)],
    ["CuPA", "CuP4", "CuP3", "noise"], [TEAL, YGREEN, RED, GRAY],
    [0.2, 1.5], X_GRID_B, X_EXPR_B, "b)", 172, -20, 387, 252)

pc = panel(
    [("noise", "n", 1.0, C_NOISE), ("Mng CuP", "mc", 1.8, C_MNG_CUP),
     ("Mng SSP", "ms", 1.8, C_MNG_SSP), ("Mng SSP", "ms2", 1.3, C_MNG_SSP_B),
     ("Cu CuP", "cc", 1.8, C_CU_CUP), ("Cu SSP", "cs", 2.0, C_CU_SSP)],
    [("#b4ada4", 1.2, 0.9, C_BAND1), ("#d9aeab", 1.0, 0.9, C_PINK),
     ("#c4c4c4", 1.0, 1.0, C_GHOST_GRAY), ("#aab0dc", 1.0, 1.0, C_GHOST_BLUE)],
    ["Cu CuP", "Cu SSP", "Mng CuP", "Mng SSP", "noise"], [GREEN, BLUE, OLIVE, RED, GRAY],
    [0.2, 12.6], X_GRID_WIDE, X_EXPR_WIDE, "c)", 40, -20, 377, 253)

pd_ = panel(
    [("noise", "n", 1.0, D_NOISE), ("CuP", "c", 1.8, D_CUP),
     ("SSP", "s", 2.0, D_SSP), ("CuP/SSP 1:1", "cs", 2.0, D_CUP_SSP)],
    [(BAND_GRAY, 1.3, 0.85, D_BAND1), ("#9a9a9a", 1.3, 0.85, D_BAND2),
     ("#c4c4c4", 1.0, 1.0, D_GHOST_GRAY)],
    ["CuP/SSP 1:1", "CuP", "SSP", "noise"], [RED, GREEN, BLUE, GRAY],
    [0.2, 12.6], X_GRID_WIDE, X_EXPR_WIDE, "d)", 130, -20, 377, 252)

chart = alt.concat(pa, pc, pb, pd_, columns=2, spacing={"row": 10, "column": 36}).resolve_scale(
    x="independent", y="independent", color="independent"
).resolve_legend(color="independent").properties(
    padding={"left": 5, "top": -6, "right": 0, "bottom": 0}
).configure(font=FONT).configure_view(
    stroke="#3a3a3a", strokeWidth=1.2
).configure_axis(
    grid=True, gridColor="#d6d6d6", gridWidth=1, domain=False, ticks=False,
    labelFont=FONT, titleFont=FONT, labelFontSize=13.5, titleFontSize=16,
    labelColor="#1a1a1a", titleColor="#1a1a1a", titleFontWeight="normal"
).configure_axisX(labelPadding=8, titlePadding=3).configure_axisY(labelPadding=9, titlePadding=14)

chart.save("out.html", embed_options={"renderer": "svg", "actions": False})
